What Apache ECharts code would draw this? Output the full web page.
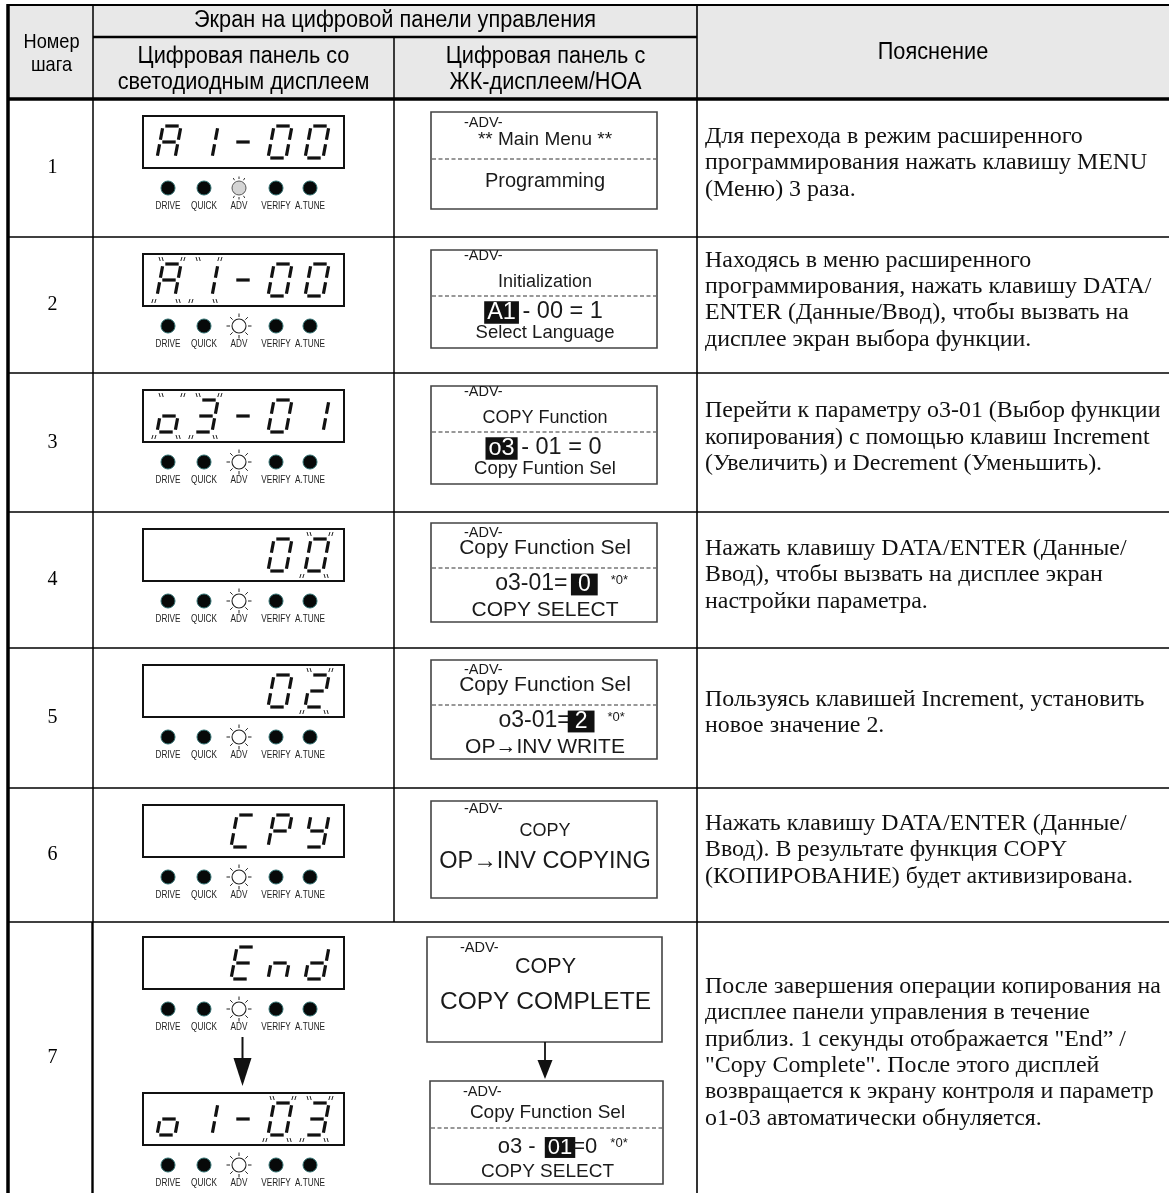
<!DOCTYPE html>
<html><head><meta charset="utf-8">
<script src="https://cdn.jsdelivr.net/npm/echarts@6/dist/echarts.min.js"></script>
<style>html,body{margin:0;padding:0;background:#fff}#c{width:1169px;height:1193px}</style>
</head><body><div id="c"></div>
<script>
// ---------------- DATA ----------------
const headTitle = 'Экран на цифровой панели управления';
const headStep = ['Номер', 'шага'];
const headLed = ['Цифровая панель со', 'светодиодным дисплеем'];
const headLcd = ['Цифровая панель с', 'ЖК-дисплеем/НОА'];
const headExpl = 'Пояснение';
const steps = ['1', '2', '3', '4', '5', '6', '7'];
const ledIndicators = ['DRIVE', 'QUICK', 'ADV', 'VERIFY', 'A.TUNE'];
const ledDisplays = ['A1-00', 'A1-00', 'o3-01', '   00', '   02', '  CPY', '  End', 'o1-03'];
const ledBlink = [[], [0, 1], [0, 1], [4], [4], [], [], [3, 4]];
const advState = ['dim', 'on', 'on', 'on', 'on', 'on', 'on', 'on'];
const lcdAdv = '-ADV-';
const lcdScreens = [
  ['** Main Menu **', 'Programming'],
  ['Initialization', '[A1] - 00 = 1', 'Select Language'],
  ['COPY Function', '[o3] - 01 = 0', 'Copy Funtion Sel'],
  ['Copy Function Sel', 'o3-01= [0]{*0*}', 'COPY SELECT'],
  ['Copy Function Sel', 'o3-01=[2]{*0*}', 'OP→INV WRITE'],
  ['COPY', 'OP→INV COPYING'],
  ['COPY', 'COPY COMPLETE'],
  ['Copy Function Sel', 'o3 -  [01]=0{*0*}', 'COPY SELECT']
];
const descriptions = [
  ['Для перехода в режим расширенного', 'программирования нажать клавишу MENU', '(Меню) 3 раза.'],
  ['Находясь в меню расширенного', 'программирования, нажать клавишу DATA/', 'ENTER (Данные/Ввод), чтобы вызвать на', 'дисплее экран выбора функции.'],
  ['Перейти к параметру o3-01 (Выбор функции', 'копирования) с помощью клавиш Increment', '(Увеличить) и Decrement (Уменьшить).'],
  ['Нажать клавишу DATA/ENTER (Данные/', 'Ввод), чтобы вызвать на дисплее экран', 'настройки параметра.'],
  ['Пользуясь клавишей Increment, установить', 'новое значение 2.'],
  ['Нажать клавишу DATA/ENTER (Данные/', 'Ввод). В результате функция COPY', '(КОПИРОВАНИЕ) будет активизирована.'],
  ['После завершения операции копирования на', 'дисплее панели управления в течение', 'приблиз. 1 секунды отображается "End” /', '"Copy Complete". После этого дисплей', 'возвращается к экрану контроля и параметр', 'o1-03 автоматически обнуляется.']
];

// ---------------- LAYOUT ----------------
const rowY = [99, 237, 373, 512, 648, 788, 922, 1193];
const X = { left: 8, c1: 93, c2: 394, c3: 697, right: 1169 };
const LED = { x: 143, w: 201, h: 52, cell0: 157, pitch: 37 };
const indX = [168, 204, 239, 276, 310];
const ledTops = [116, 254, 390, 529, 665, 805, 937, 1093];
const lcdLayouts = [
  { top: 112, x: 431, w: 226, h: 97, adv: 11, dash: 47, lines: [[28, 19], [69, 20]] },
  { top: 250, x: 431, w: 226, h: 98, adv: 6, dash: 46, lines: [[32, 18], [62, 23.5], [83, 18.5]] },
  { top: 386, x: 431, w: 226, h: 98, adv: 6, dash: 46, lines: [[32, 18], [62, 23.5], [83, 18.5]] },
  { top: 523, x: 431, w: 226, h: 99, adv: 10, dash: 45, lines: [[25, 21], [61, 23], [87, 21]] },
  { top: 660, x: 431, w: 226, h: 99, adv: 10, dash: 45, lines: [[25, 21], [61, 23], [87, 21]] },
  { top: 801, x: 431, w: 226, h: 97, adv: 8, dash: null, lines: [[30, 18], [61, 23.5]] },
  { top: 937, x: 427, w: 235, h: 105, adv: 11, dash: null, lines: [[30, 21.5], [65, 24.5]] },
  { top: 1081, x: 430, w: 233, h: 103, adv: 11, dash: 47, lines: [[32, 19], [66, 22], [91, 19]] }
];
const SANS = '"Liberation Sans", Arial, sans-serif';
const SERIF = '"Liberation Serif", "Times New Roman", serif';
const HSX = 0.88;   // horizontal condensing of header lettering

// ---------------- HELPERS ----------------
const mctx = document.createElement('canvas').getContext('2d');
function tw(t, font) { mctx.font = font; return mctx.measureText(t).width; }
function fit(t, family, target) { return 20 * target / tw(t, '20px ' + family); }

const els = [];
function add(e) { e.silent = true; els.push(e); }
function line(x1, y1, x2, y2, w, color, dash) {
  add({ type: 'line', shape: { x1, y1, x2, y2 }, style: { stroke: color || '#000', lineWidth: w, lineDash: dash || null, lineCap: 'butt' } });
}
function rect(x, y, w, h, st) { add({ type: 'rect', shape: { x, y, width: w, height: h }, style: st }); }
function poly(points, fill) { add({ type: 'polygon', shape: { points }, style: { fill } }); }
function text(t, x, y, font, align, fill, sx) {
  align = align || 'center';
  add({ type: 'text', x, y, scaleX: sx || 1, scaleY: 1,
        style: { text: t, x: 0, y: 0, font, fill: fill || '#000', align, textAlign: align, verticalAlign: 'middle', textVerticalAlign: 'middle' } });
}

// 7-segment
const GLYPH = { '0': 'abcdef', '1': 'bc', '2': 'abged', '3': 'abgcd', 'A': 'abcefg', '-': 'g', 'o': 'cdeg', 'C': 'adef', 'P': 'abefg', 'Y': 'bcdfg', 'E': 'adefg', 'n': 'ceg', 'd': 'bcdeg', ' ': '' };
const SW = 18, SH = 32, SL = 6, SG = 2.3;
function segPts(s) {
  const h = SH / 2;
  return { a: [[SG, 0], [SW - SG, 0]], b: [[SW, SG], [SW, h - SG]], c: [[SW, h + SG], [SW, SH - SG]], d: [[SG, SH], [SW - SG, SH]], e: [[0, h + SG], [0, SH - SG]], f: [[0, SG], [0, h - SG]], g: [[SG, h], [SW - SG, h]] }[s];
}
function drawDigit(ch, x0, y0) {
  const tx = (u, v) => [x0 + u + SL * (1 - v / SH), y0 + v];
  for (const s of (GLYPH[ch] || '')) {
    const [[u1, v1], [u2, v2]] = segPts(s);
    const p1 = tx(u1, v1), p2 = tx(u2, v2);
    line(p1[0], p1[1], p2[0], p2[1], 3.2, '#111');
  }
}
function blinkMarks(x0, y0) {
  const marks = [[x0 + SL - 4, y0 - 5, 1], [x0 + SW + SL + 1, y0 - 5, -1], [x0 - 4, y0 + SH + 5, -1], [x0 + SW + 1, y0 + SH + 5, 1]];
  for (const [ax, ay, dir] of marks) {
    for (let k = 0; k < 2; k++) {
      const bx = ax + k * 3;
      line(bx, ay - 2, bx + dir * 1.2, ay + 2, 1, '#222');
    }
  }
}
function drawLed(idx) {
  const top = ledTops[idx];
  rect(LED.x, top, LED.w, LED.h, { fill: '#fff', stroke: '#111', lineWidth: 2 });
  const s = ledDisplays[idx];
  for (let i = 0; i < s.length; i++) {
    const x0 = LED.cell0 + i * LED.pitch, y0 = top + 10;
    drawDigit(s[i], x0, y0);
    if (ledBlink[idx].includes(i)) blinkMarks(x0, y0);
  }
  const cy = top + 72;
  ledIndicators.forEach((name, k) => {
    const cx = indX[k];
    if (name === 'ADV') {
      const st = advState[idx];
      if (st === 'dim') {
        add({ type: 'circle', shape: { cx, cy, r: 7 }, style: { fill: '#d4d4d4', stroke: '#555', lineWidth: 1 } });
        [-120, -90, -60, 60, 90, 120].forEach(a => {
          const r = a * Math.PI / 180;
          line(cx + 9 * Math.cos(r), cy + 9 * Math.sin(r), cx + 11.5 * Math.cos(r), cy + 11.5 * Math.sin(r), 1, '#333');
        });
      } else {
        add({ type: 'circle', shape: { cx, cy, r: 7 }, style: { fill: '#fff', stroke: '#222', lineWidth: 1.1 } });
        for (let a = 0; a < 360; a += 45) {
          const r = a * Math.PI / 180;
          line(cx + 9 * Math.cos(r), cy + 9 * Math.sin(r), cx + 12.5 * Math.cos(r), cy + 12.5 * Math.sin(r), 1, '#222');
        }
      }
    } else {
      add({ type: 'circle', shape: { cx, cy, r: 7 }, style: { fill: '#070909', stroke: '#2f6f70', lineWidth: 1 } });
    }
    text(name, cx, top + 90, '10px ' + SANS, 'center', '#222', 0.82);
  });
}
function parseRuns(s) {
  const runs = [], re = /\[([^\]]*)\]|\{([^}]*)\}|([^\[\{]+)/g; let m;
  while ((m = re.exec(s))) {
    if (m[1] !== undefined) runs.push({ t: m[1], inv: true });
    else if (m[2] !== undefined) runs.push({ t: m[2], small: true });
    else runs.push({ t: m[3] });
  }
  return runs;
}
function drawLcd(idx) {
  const L = lcdLayouts[idx];
  rect(L.x, L.top, L.w, L.h, { fill: '#fff', stroke: '#444', lineWidth: 1.6 });
  text(lcdAdv, L.x + 33, L.top + L.adv, '14.5px ' + SANS, 'left', '#1a1a1a');
  if (L.dash) line(L.x + 1, L.top + L.dash, L.x + L.w - 1, L.top + L.dash, 1.2, '#333', [4, 2.5]);
  const cx = L.x + L.w / 2 + 1;
  lcdScreens[idx].forEach((str, li) => {
    const [dy, fs] = L.lines[li];
    const y = L.top + dy;
    const font = fs + 'px ' + SANS;
    const runs = parseRuns(str);
    let total = 0;
    runs.forEach(r => {
      if (!r.small) {
        r.w = tw(r.t, font);
        r.pad = r.inv ? (r.t.length === 1 ? 7 : 3) : 0;
        total += r.w + (r.inv && r.t.length === 1 ? 2 * r.pad - 6 : 0);
      }
    });
    let x = cx - total / 2;
    let lastRight = x;
    runs.forEach(r => {
      if (r.small) {
        text(r.t, lastRight + 13, y - 4, '13px ' + SANS, 'left', '#1a1a1a');
      } else if (r.inv) {
        const extra = r.t.length === 1 ? r.pad - 3 : 0;
        x += extra;
        const hh = fs * 0.95;
        rect(x - r.pad, y - hh / 2 + 0.5, r.w + 2 * r.pad, hh, { fill: '#111' });
        text(r.t, x, y + 0.5, font, 'left', '#fff');
        lastRight = x + r.w + r.pad;
        x += r.w + extra;
      } else {
        text(r.t, x, y, font, 'left', '#1a1a1a');
        x += r.w;
        lastRight = x;
      }
    });
  });
}

// ---------------- BUILD ----------------
rect(X.left, 5, X.right - X.left, rowY[0] - 5, { fill: '#e8e8e8' });
const hSize = fit(headTitle, SANS, 402 / HSX);
const hFont = hSize.toFixed(1) + 'px ' + SANS;
text(headTitle, (X.c1 + X.c3) / 2, 20, hFont, 'center', '#000', HSX);
text(headLed[0], (X.c1 + X.c2) / 2, 56, hFont, 'center', '#000', HSX);
text(headLed[1], (X.c1 + X.c2) / 2, 82, hFont, 'center', '#000', HSX);
text(headLcd[0], (X.c2 + X.c3) / 2, 56, hFont, 'center', '#000', HSX);
text(headLcd[1], (X.c2 + X.c3) / 2, 82, hFont, 'center', '#000', HSX);
text(headExpl, (X.c3 + X.right) / 2, 52, hFont, 'center', '#000', HSX);
const sFont = fit(headStep[0], SANS, 56 / HSX).toFixed(1) + 'px ' + SANS;
text(headStep[0], (X.left + X.c1) / 2 + 1, 42, sFont, 'center', '#000', HSX);
text(headStep[1], (X.left + X.c1) / 2 + 1, 65, sFont, 'center', '#000', HSX);

const dSize = fit(descriptions[0][0], SERIF, 378);
const dFont = dSize.toFixed(2) + 'px ' + SERIF;
const dLH = 26.3;

steps.forEach((s, i) => {
  const y0 = rowY[i], y1 = rowY[i + 1], cyRow = (y0 + y1) / 2;
  text(s, (X.left + X.c1) / 2 + 2, cyRow, '20px ' + SERIF);
  const lines = descriptions[i];
  const start = cyRow - 5 - (lines.length - 1) * dLH / 2;
  lines.forEach((t, k) => text(t, 705, start + k * dLH, dFont, 'left', '#111'));
});

for (let i = 0; i < ledDisplays.length; i++) drawLed(i);
for (let i = 0; i < lcdScreens.length; i++) drawLcd(i);

// arrows in step 7
line(242.5, 1037, 242.5, 1062, 2, '#111');
poly([[233.5, 1058], [251.5, 1058], [242.5, 1086]], '#111');
line(545, 1042, 545, 1062, 1.8, '#111');
poly([[537.5, 1060], [552.5, 1060], [545, 1079]], '#111');

// grid lines
line(X.left, 5, X.right, 5, 2);
line(X.c1, 37, X.c3, 37, 2.5);
line(X.left, rowY[0], X.right, rowY[0], 3.5);
for (let i = 1; i < rowY.length - 1; i++) line(X.left, rowY[i], X.right, rowY[i], 1.6);
line(X.left, 4, X.left, 1193, 3.5);
line(X.c1, 5, X.c1, rowY[6], 1.5);
line(X.c1 - 0.5, rowY[6], X.c1 - 0.5, 1193, 2.4);
line(X.c2, 37, X.c2, rowY[6], 1.5);
line(X.c3, 5, X.c3, 1193, 1.6);

const chart = echarts.init(document.getElementById('c'), null, { renderer: 'canvas' });
chart.setOption({ animation: false, graphic: { elements: els } });
</script>
</body></html>
